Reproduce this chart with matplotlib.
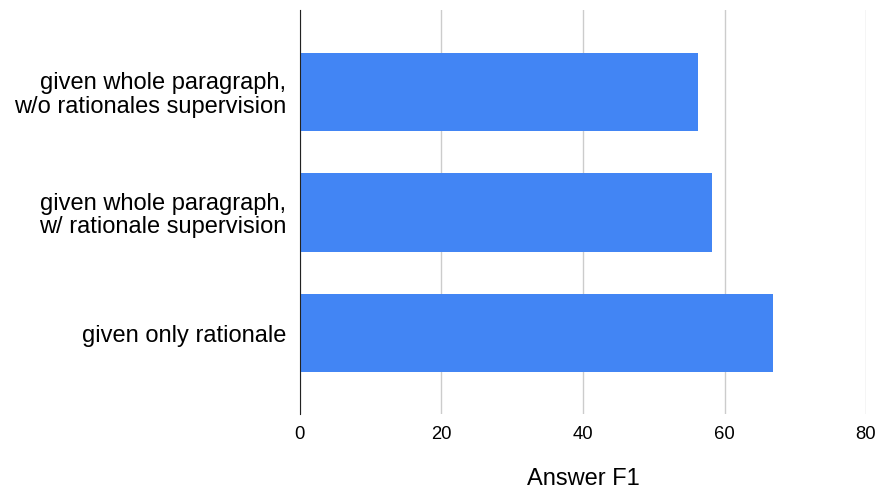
import matplotlib.pyplot as plt

plt.rcParams['font.family'] = ['Liberation Sans', 'DejaVu Sans']

# categories, top to bottom
labels = ['given whole paragraph,\nw/o rationales supervision',
          'given whole paragraph,\nw/ rationale supervision',
          'given only rationale']
f1 = [56.2, 58.3, 66.9]
xticks = [0, 20, 40, 60, 80]

fig = plt.figure(figsize=(8.77, 4.91), dpi=100)
ax = fig.add_axes([0.342, 0.157, 0.6455, 0.823])

pos = list(range(len(labels)))
ax.barh(pos, f1, height=0.65, color='#4285F4', zorder=3)

ax.set_xlim(0, 80)
ax.set_ylim(2.67, -0.68)
ax.set_xticks(xticks)
ax.set_yticks(pos)
ax.set_yticklabels(labels, fontsize=17, linespacing=1.08)
ax.tick_params(axis='x', labelsize=13.3, length=0, pad=9)
ax.tick_params(axis='y', length=0, pad=10)

ax.grid(axis='x', color='#cccccc', linewidth=1, zorder=0)
for s in ['top', 'right', 'bottom']:
    ax.spines[s].set_visible(False)
ax.spines['left'].set_color('#222222')
ax.spines['left'].set_zorder(4)

ax.set_xlabel('Answer F1', fontsize=17, labelpad=18)

plt.savefig('out.png', dpi=100)
